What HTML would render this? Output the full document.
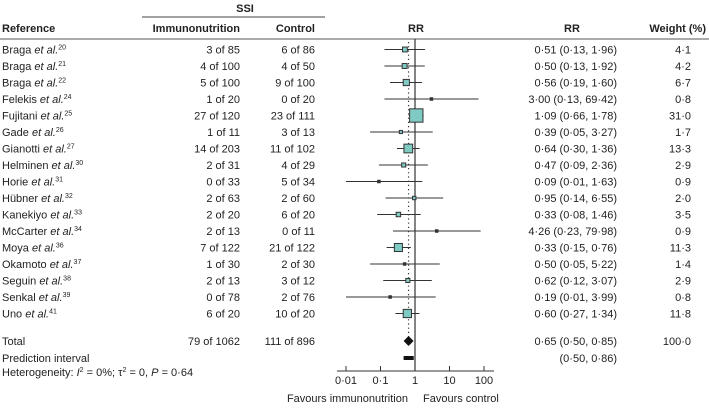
<!DOCTYPE html>
<html><head><meta charset="utf-8"><style>
body{margin:0;background:#fff;width:709px;height:404px;overflow:hidden;font-family:"Liberation Sans",sans-serif;color:#222}
svg text{font-family:"Liberation Sans",sans-serif;font-size:11px;fill:#222}
</style></head><body>
<svg id="plot" width="709" height="404" viewBox="0 0 709 404" xmlns="http://www.w3.org/2000/svg">
<g>
<text x="245" y="12" text-anchor="middle" font-weight="bold">SSI</text>
<line x1="142" y1="17" x2="325" y2="17" stroke="#444" stroke-width="1"/>
<text x="2" y="32" font-weight="bold">Reference</text>
<text x="240" y="32" text-anchor="end" font-weight="bold">Immunonutrition</text>
<text x="315" y="32" text-anchor="end" font-weight="bold">Control</text>
<text x="416" y="32" text-anchor="middle" font-weight="bold">RR</text>
<text x="572" y="32" text-anchor="middle" font-weight="bold">RR</text>
<text x="706" y="32" text-anchor="end" font-weight="bold">Weight (%)</text>
<line x1="0" y1="39" x2="709" y2="39" stroke="#555" stroke-width="1"/>
</g>
<g id="rows"></g>
<g id="axis"></g>
</svg>
<script>
const studies=["Braga","Braga","Braga","Felekis","Fujitani","Gade","Gianotti","Helminen","Horie","Hübner","Kanekiyo","McCarter","Moya","Okamoto","Seguin","Senkal","Uno"];
const refs=["20","21","22","24","25","26","27","30","31","32","33","34","36","37","38","39","41"];
const immuno=["3 of 85","4 of 100","5 of 100","1 of 20","27 of 120","1 of 11","14 of 203","2 of 31","0 of 33","2 of 63","2 of 20","2 of 13","7 of 122","1 of 30","2 of 13","0 of 78","6 of 20"];
const control=["6 of 86","4 of 50","9 of 100","0 of 20","23 of 111","3 of 13","11 of 102","4 of 29","5 of 34","2 of 60","6 of 20","0 of 11","21 of 122","2 of 30","3 of 12","2 of 76","10 of 20"];
const rr=[0.51,0.50,0.56,3.00,1.09,0.39,0.64,0.47,0.09,0.95,0.33,4.26,0.33,0.50,0.62,0.19,0.60];
const lo=[0.13,0.13,0.19,0.13,0.66,0.05,0.30,0.09,0.01,0.14,0.08,0.23,0.15,0.05,0.12,0.01,0.27];
const hi=[1.96,1.92,1.60,69.42,1.78,3.27,1.36,2.36,1.63,6.55,1.46,79.98,0.76,5.22,3.07,3.99,1.34];
const weight=[4.1,4.2,6.7,0.8,31.0,1.7,13.3,2.9,0.9,2.0,3.5,0.9,11.3,1.4,2.9,0.8,11.8];
const pooled=[0.65,0.50,0.85];
const predInt=[0.50,0.86];
const ticks=[0.01,0.1,1,10,100];
const tickLabels=["0·01","0·1","1","10","100"];

const NS="http://www.w3.org/2000/svg";
const X=v=>415+34.5*Math.log10(v);
const rowY=i=>49.5+16.5*i;
const f2=v=>v.toFixed(2).replace('.','·');
const f1=v=>v.toFixed(1).replace('.','·');
function mk(tag,attrs,parent,txt){const e=document.createElementNS(NS,tag);for(const k in attrs)e.setAttribute(k,attrs[k]);if(txt!==undefined)e.textContent=txt;parent.appendChild(e);return e;}
const rows=document.getElementById('rows');
const totalY=341;
let l=mk('line',{x1:X(1),y1:39,x2:X(1),y2:371,stroke:'#333','stroke-width':1.2},rows);


l=mk('line',{x1:X(pooled[0]),y1:42,x2:X(pooled[0]),y2:totalY,stroke:'#333','stroke-width':1.2,'stroke-dasharray':'1.2,3'},rows);


studies.forEach((s,i)=>{
  const y=rowY(i);
  const g=mk('g',{},rows);
  
  
  const t=mk('text',{x:2,y:y+4},g);
  t.appendChild(document.createTextNode(s+' '));
  mk('tspan',{'font-style':'italic'},t,'et al.');
  mk('tspan',{'font-size':'7px',dy:-4},t,refs[i]);
  mk('text',{x:240,y:y+4,'text-anchor':'end'},g,immuno[i]);
  mk('text',{x:315,y:y+4,'text-anchor':'end'},g,control[i]);
  mk('text',{x:617,y:y+4,'text-anchor':'end'},g,f2(rr[i])+' ('+f2(lo[i])+', '+f2(hi[i])+')');
  mk('text',{x:691,y:y+4,'text-anchor':'end'},g,f1(weight[i]));
  const ci=mk('line',{x1:Math.max(338,X(lo[i])),y1:y,x2:Math.min(494,X(hi[i])),y2:y,stroke:'#333','stroke-width':1},g);
  
  
  const sz=Math.max(3,2.4*Math.sqrt(weight[i]));
  const sq=mk('rect',{x:X(rr[i])-sz/2,y:y-sz/2,width:sz,height:sz,fill:weight[i]<1.5?'#333':'#7fcbc4',stroke:'#333','stroke-width':weight[i]<1.5?0.5:1},g);
  
  
});
const tg=mk('g',{},rows);


mk('text',{x:2,y:totalY+4},tg,'Total');
mk('text',{x:240,y:totalY+4,'text-anchor':'end'},tg,'79 of 1062');
mk('text',{x:315,y:totalY+4,'text-anchor':'end'},tg,'111 of 896');
mk('text',{x:617,y:totalY+4,'text-anchor':'end'},tg,f2(pooled[0])+' ('+f2(pooled[1])+', '+f2(pooled[2])+')');
mk('text',{x:691,y:totalY+4,'text-anchor':'end'},tg,'100·0');
const d=mk('polygon',{points:`${X(pooled[1])-1},${totalY} ${X(pooled[0])},${totalY-5} ${X(pooled[2])+1},${totalY} ${X(pooled[0])},${totalY+5}`,fill:'#111'},tg);


const py=358;
const pg=mk('g',{},rows);


mk('text',{x:2,y:py+4},pg,'Prediction interval');
mk('text',{x:617,y:py+4,'text-anchor':'end'},pg,'('+f2(predInt[0])+', '+f2(predInt[1])+')');
const pb=mk('rect',{x:X(predInt[0])-1,y:py-2,width:X(predInt[1])-X(predInt[0])+2,height:4,fill:'#111'},pg);


const ht=mk('text',{x:2,y:376},rows);


ht.appendChild(document.createTextNode('Heterogeneity: '));
mk('tspan',{'font-style':'italic'},ht,'I');
mk('tspan',{'font-size':'7px',dy:-4},ht,'2');
mk('tspan',{dy:4},ht,' = 0%; τ');
mk('tspan',{'font-size':'7px',dy:-4},ht,'2');
mk('tspan',{dy:4},ht,' = 0, ');
mk('tspan',{'font-style':'italic'},ht,'P');
mk('tspan',{},ht,' = 0·64');
const ax=document.getElementById('axis');
mk('line',{x1:337,y1:371,x2:494,y2:371,stroke:'#333','stroke-width':1},ax);
ticks.forEach((t,i)=>{
  mk('line',{x1:X(t),y1:366,x2:X(t),y2:371,stroke:'#333','stroke-width':1},ax);
  const tl=mk('text',{x:X(t),y:384,'text-anchor':'middle'},ax,tickLabels[i]);
  
  
});
let fl=mk('text',{x:408,y:402,'text-anchor':'end'},ax,'Favours immunonutrition');


fl=mk('text',{x:423,y:402},ax,'Favours control');


</script>
</body></html>
